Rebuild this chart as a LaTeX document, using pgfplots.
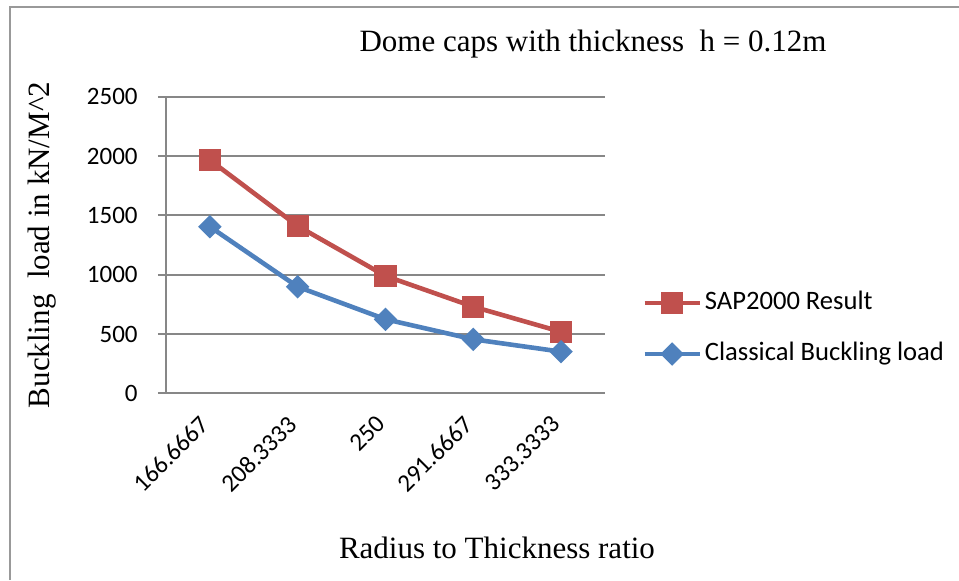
\documentclass[border=0pt]{standalone}
\usepackage{fontspec}
\setmainfont{Liberation Serif}
\newfontfamily\calibri{Carlito}
\usepackage{pgfplots}
\pgfplotsset{compat=1.18}
\definecolor{exred}{HTML}{C0504D}
\definecolor{exblue}{HTML}{4F81BD}
\definecolor{gridgray}{HTML}{878787}
\begin{document}
\begin{tikzpicture}
\useasboundingbox (-83pt,-93.35pt) rectangle (396.5pt,196.65pt);
\draw[color=gray!80, line width=1pt] (-78pt,-93.35pt) -- (-78pt,193.15pt) -- (396.5pt,193.15pt);
\begin{axis}[
  at={(0pt,0pt)}, anchor=south west,
  scale only axis, width=219.5pt, height=148.3pt,
  xmin=-0.5, xmax=4.5, ymin=0, ymax=2500,
  axis x line*=bottom, axis y line*=left,
  axis line style={gridgray, line width=0.9pt, -},
  xtick={0,1,2,3,4},
  xticklabels={166.6667,208.3333,250,291.6667,333.3333},
  ytick={0,500,1000,1500,2000,2500},
  ymajorgrids, grid style={gridgray, line width=0.9pt},
  major x tick style={draw=none},
  major y tick style={gridgray, line width=0.9pt},
  tick align=outside, major tick length=4pt,
  /pgf/number format/assume math mode=true,
  /pgf/number format/1000 sep={},
  yticklabel style={font=\calibri\fontsize{12.5}{14}\selectfont, inner sep=0pt, xshift=-10pt},
  xticklabel style={font=\calibri\fontsize{12.5}{14}\selectfont, xshift=-5.5pt, yshift=-6.2pt, rotate=45, anchor=north east, inner sep=0pt},
  title={Dome caps with thickness~~h = 0.12m},
  title style={at={(axis description cs:0.9727,1.1374)}, anchor=center, font=\fontsize{15.5}{17}\selectfont},
  ylabel={Buckling~~load in kN/M\textasciicircum 2},
  ylabel style={at={(axis description cs:-0.2825,0.5)}, anchor=center, font=\fontsize{15.5}{17}\selectfont},
  xlabel={Radius to Thickness ratio},
  xlabel style={at={(axis description cs:0.754,-0.5226)}, anchor=center, font=\fontsize{15.5}{17}\selectfont},
  legend style={at={(axis description cs:1.084,0.358)}, anchor=north west, draw=none, fill=none,
    font=\calibri\fontsize{13.3}{15}\selectfont, inner sep=0pt, row sep=10pt,
    nodes={inner sep=1.5pt, text height=9.5pt, text depth=3pt}},
  legend cell align=left,
  legend image code/.code={\draw[mark repeat=2,mark phase=2,#1] plot coordinates {(0pt,0pt) (13.75pt,0pt) (27.5pt,0pt)};},
]
\addplot[exred, line width=2.3pt, mark=square*, mark size=4.4pt, mark options={solid}] coordinates {
  (0,1966) (1,1410) (2,989) (3,730) (4,518)};
\addlegendentry{SAP2000 Result}
\addplot[exblue, line width=2.3pt, mark=square*, mark size=3pt, mark options={solid, rotate=45}] coordinates {
  (0,1404) (1,898) (2,624) (3,455) (4,351)};
\addlegendentry{Classical Buckling load}
\end{axis}
\end{tikzpicture}
\end{document}
